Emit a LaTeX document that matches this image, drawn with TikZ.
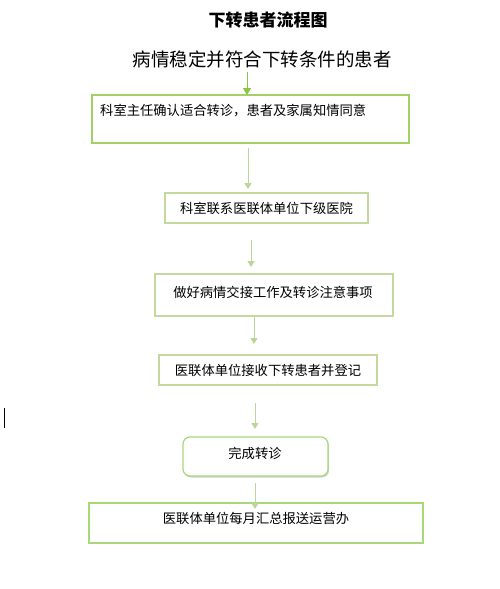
\documentclass[tikz,border=0pt]{standalone}
\usepackage{fontspec}
\setmainfont{Noto Sans CJK SC}
\newfontfamily\cjk{Noto Sans CJK SC}
\usetikzlibrary{arrows.meta,shadows}
\definecolor{brightg}{HTML}{8CC63F}
\definecolor{boxg}{HTML}{A8D879}
\definecolor{paleg}{HTML}{C3D9A0}
\definecolor{arrg}{HTML}{BCD59A}
\begin{document}
\begin{tikzpicture}[x=1pt,y=-1pt,
  stepbox/.style={draw=boxg,line width=1.2pt,inner sep=0pt,font=\fontsize{13.3}{15}\selectfont},
  flow/.style={draw=arrg,line width=1pt,-{Triangle[length=6pt,width=7pt]}},
  lbl/.style={inner sep=0pt,font=\fontsize{13.3}{15}\selectfont}]
\useasboundingbox (0,0) rectangle (500,589);
\fill[white] (0,0) rectangle (500,589);
\node[inner sep=0pt,font=\fontsize{17}{20}\selectfont\bfseries] (title) at (268,20) {下转患者流程图};
\node[inner sep=0pt,font=\fontsize{18.5}{22}\selectfont] (sub) at (262,59) {病情稳定并符合下转条件的患者};
% box1
\node[stepbox,draw=brightg!80!white,minimum width=317pt,minimum height=48pt] (b1) at (250.5,119) {};
\node[lbl,anchor=west] (t1) at (100,111) {科室主任确认适合转诊，患者及家属知情同意};
% box2
\node[stepbox,draw=paleg,minimum width=203pt,minimum height=30pt] (b2) at (266.5,208) {科室联系医联体单位下级医院};
% box3
\node[stepbox,draw=paleg,minimum width=238pt,minimum height=42pt] (b3) at (274,295) {};
\node[lbl] (t3) at (273,292) {做好病情交接工作及转诊注意事项};
% box4
\node[stepbox,draw=paleg,minimum width=218pt,minimum height=30pt] (b4) at (268,370) {医联体单位接收下转患者并登记};
% box5
\node[stepbox,draw=boxg,fill=white,rounded corners=7pt,minimum width=145pt,minimum height=39pt,
  drop shadow={shadow xshift=1pt,shadow yshift=-1.5pt,fill=black!30,opacity=0.6}] (b5) at (255.5,456.5) {};
\node[lbl] (t5) at (255,453) {完成转诊};
% box6
\node[stepbox,draw=boxg,minimum width=334pt,minimum height=40pt] (b6) at (256,523) {};
\node[lbl] (t6) at (256,518) {医联体单位每月汇总报送运营办};
% arrows
\coordinate (a1s) at (247,72);
\draw[flow,draw=brightg,-{Triangle[length=7pt,width=8pt,fill=brightg]}] (a1s) -- (247,95);
\coordinate (a2s) at (248,148);
\draw[flow] (a2s) -- (248,189);
\coordinate (a3s) at (251,240);
\draw[flow] (a3s) -- (251,267);
\coordinate (a4s) at (254,317);
\draw[flow] (a4s) -- (254,344);
\coordinate (a5s) at (255,403);
\draw[flow] (a5s) -- (255,429);
\coordinate (a6s) at (255,483);
\draw[flow] (a6s) -- (255,509);
% cursor
\draw[black,line width=1.6pt] (4.5,408) -- (4.5,428);
\end{tikzpicture}
\end{document}
